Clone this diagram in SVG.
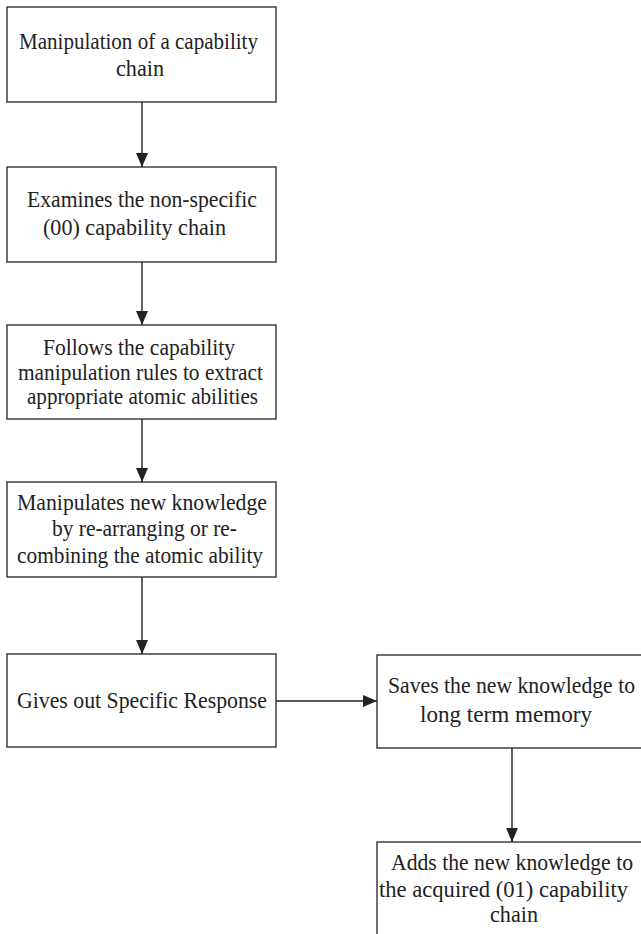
<svg xmlns="http://www.w3.org/2000/svg" width="641" height="934" viewBox="0 0 641 934">
<style>
.box{fill:#fff;stroke:#222;stroke-width:1.3}
.t{font-family:"Liberation Serif","Times New Roman",serif;font-size:23.5px;fill:#222;text-anchor:middle}
.c{stroke:#222;stroke-width:1.4;fill:none}
</style>
<defs>
<marker id="ah" markerUnits="userSpaceOnUse" markerWidth="14" markerHeight="12" refX="14" refY="6" orient="auto">
<path d="M0,0 L14,6 L0,12 z" fill="#222"/>
</marker>
</defs>
<rect width="641" height="934" fill="#fff"/>
<g id="connectors">
<line class="c" x1="142" y1="102" x2="142" y2="167" marker-end="url(#ah)"/>
<line class="c" x1="142" y1="262" x2="142" y2="325" marker-end="url(#ah)"/>
<line class="c" x1="142" y1="419" x2="142" y2="482" marker-end="url(#ah)"/>
<line class="c" x1="142" y1="577" x2="142" y2="654" marker-end="url(#ah)"/>
<line class="c" x1="276" y1="701" x2="377" y2="701" marker-end="url(#ah)"/>
<line class="c" x1="512" y1="748" x2="512" y2="842" marker-end="url(#ah)"/>
</g>
<g id="n1">
<rect class="box" x="7" y="7" width="269" height="95"/>
<text class="t" x="138.5" y="49" textLength="239" lengthAdjust="spacingAndGlyphs">Manipulation of a capability</text>
<text class="t" x="140" y="76" textLength="48" lengthAdjust="spacingAndGlyphs">chain</text>
</g>
<g id="n2">
<rect class="box" x="7" y="167" width="269" height="95"/>
<text class="t" x="142" y="207" textLength="230" lengthAdjust="spacingAndGlyphs">Examines the non-specific</text>
<text class="t" x="134.5" y="235" textLength="183" lengthAdjust="spacingAndGlyphs">(00) capability chain</text>
</g>
<g id="n3">
<rect class="box" x="7" y="325" width="269" height="94"/>
<text class="t" x="139" y="355" textLength="192" lengthAdjust="spacingAndGlyphs">Follows the capability</text>
<text class="t" x="140.5" y="380" textLength="245" lengthAdjust="spacingAndGlyphs">manipulation rules to extract</text>
<text class="t" x="142.5" y="404" textLength="231" lengthAdjust="spacingAndGlyphs">appropriate atomic abilities</text>
</g>
<g id="n4">
<rect class="box" x="7" y="482" width="269" height="95"/>
<text class="t" x="142" y="510" textLength="250" lengthAdjust="spacingAndGlyphs">Manipulates new knowledge</text>
<text class="t" x="144.5" y="536" textLength="185" lengthAdjust="spacingAndGlyphs">by re-arranging or re-</text>
<text class="t" x="140" y="563" textLength="246" lengthAdjust="spacingAndGlyphs">combining the atomic ability</text>
</g>
<g id="n5">
<rect class="box" x="7" y="654" width="269" height="93"/>
<text class="t" x="142" y="708" textLength="250" lengthAdjust="spacingAndGlyphs">Gives out Specific Response</text>
</g>
<g id="n6">
<rect class="box" x="377" y="655" width="270" height="93"/>
<text class="t" x="511.5" y="693" textLength="247" lengthAdjust="spacingAndGlyphs">Saves the new knowledge to</text>
<text class="t" x="506" y="722" textLength="172" lengthAdjust="spacingAndGlyphs">long term memory</text>
</g>
<g id="n7">
<rect class="box" x="377" y="842" width="270" height="100"/>
<text class="t" x="512" y="870" textLength="242" lengthAdjust="spacingAndGlyphs">Adds the new knowledge to</text>
<text class="t" x="503.5" y="897" textLength="249" lengthAdjust="spacingAndGlyphs">the acquired (01) capability</text>
<text class="t" x="514" y="922" textLength="48" lengthAdjust="spacingAndGlyphs">chain</text>
</g>
</svg>
